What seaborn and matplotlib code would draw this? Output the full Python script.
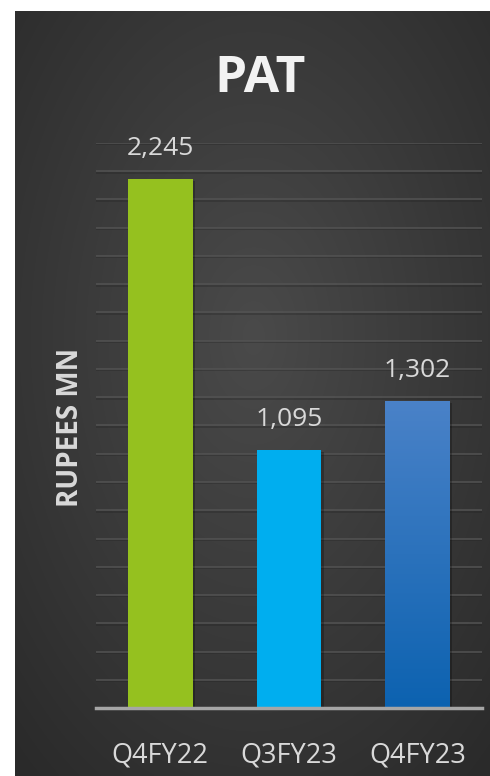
import numpy as np
import pandas as pd
import matplotlib
matplotlib.use("Agg")
import matplotlib.pyplot as plt
import seaborn as sns
from matplotlib import patheffects as pe

categories = ["Q4FY22", "Q3FY23", "Q4FY23"]
values = [2245, 1095, 1302]
labels = ["2,245", "1,095", "1,302"]
bar_colors = ["#95C11F", "#00AEEF", "#2A74C0"]
title = "PAT"
ylabel = "RUPEES MN"

sns.set_theme(style="white")
plt.rcParams['font.family'] = ['Open Sans', 'DejaVu Sans']

W, H = 490, 776
fig = plt.figure(figsize=(W / 100, H / 100), dpi=100)
fig.patch.set_facecolor("white")

# dark radial-gradient panel
bg = fig.add_axes([15 / W, 0, (W - 15) / W, (H - 11) / H])
bg.set_axis_off()
yy, xx = np.mgrid[0:400, 0:300]
cx, cy = 150, 170
r = np.sqrt(((xx - cx) / 300) ** 2 + ((yy - cy) / 400) ** 2)
r = np.clip(r / 0.75, 0, 1)
c0 = np.array([0x4a, 0x4a, 0x4a]) / 255
c1 = np.array([0x2a, 0x2a, 0x2a]) / 255
img = c0[None, None, :] * (1 - r[..., None]) + c1[None, None, :] * r[..., None]
bg.imshow(img, aspect="auto", extent=[0, 1, 0, 1], interpolation="bilinear")
bg.set_xlim(0, 1)
bg.set_ylim(0, 1)

ax = fig.add_axes([96 / W, 68 / H, (482 - 96) / W, 565 / H])
ax.patch.set_alpha(0)
df = pd.DataFrame({"cat": categories, "val": values})
sns.barplot(data=df, x="cat", y="val", hue="cat", palette=bar_colors,
            width=0.505, legend=False, ax=ax, saturation=1, zorder=3)

ax.set_ylim(0, 2400)
ax.set_xlim(-0.5, 2.5)
ax.set_yticks(np.arange(0, 2401, 120))
ax.yaxis.grid(True, color="#535353", linewidth=1.1, zorder=0,
              path_effects=[pe.SimpleLineShadow(offset=(0, -1), shadow_color="#222222", alpha=0.4), pe.Normal()])
ax.set_axisbelow(True)
for s in ["top", "right", "left"]:
    ax.spines[s].set_visible(False)
ax.spines["bottom"].set_color("#a6a6a6")
ax.spines["bottom"].set_linewidth(2.5)
ax.spines["bottom"].set_zorder(5)
ax.tick_params(axis="y", left=False, labelleft=False)
ax.tick_params(axis="x", bottom=False, labelsize=19.5, labelcolor="#d9d9d9", pad=18)
ax.set_xlabel("")
ax.set_ylabel("")

# gradient on third bar + subtle shadows
patches = ax.patches
for i, p in enumerate(patches):
    p.set_edgecolor("none")
    p.set_path_effects([pe.SimplePatchShadow(offset=(1.5, -1), shadow_rgbFace="black", alpha=0.25), pe.Normal()])
p3 = patches[2]
x0, w = p3.get_x(), p3.get_width()
h = p3.get_height()
grad = np.linspace(0, 1, 256)[:, None]
top = np.array([0x4a, 0x82, 0xc8]) / 255
bot = np.array([0x0c, 0x62, 0xb0]) / 255
gimg = top[None, None, :] * (1 - grad[..., None]) + bot[None, None, :] * grad[..., None]
gimg = np.repeat(gimg, 2, axis=1)
im = ax.imshow(gimg, extent=[x0, x0 + w, 0, h], aspect="auto", zorder=4, interpolation="bilinear")
im.set_clip_path(p3)
ax.set_xlim(-0.5, 2.5)
ax.set_ylim(0, 2400)

for i, (v, lab) in enumerate(zip(values, labels)):
    ax.annotate(lab, (i, v), xytext=(0, 22), textcoords="offset points",
                ha="center", va="center", fontsize=19, color="#d9d9d9")

fig.text(260 / W, 1 - 79 / H, title, ha="center", va="center",
         fontsize=37, fontweight="bold", color="#f2f2f2")
fig.text(70 / W, 1 - 427 / H, ylabel, ha="center", va="center", rotation=90,
         fontsize=20, fontweight="bold", color="#d9d9d9")

fig.savefig("out.png", dpi=100, facecolor="white")
